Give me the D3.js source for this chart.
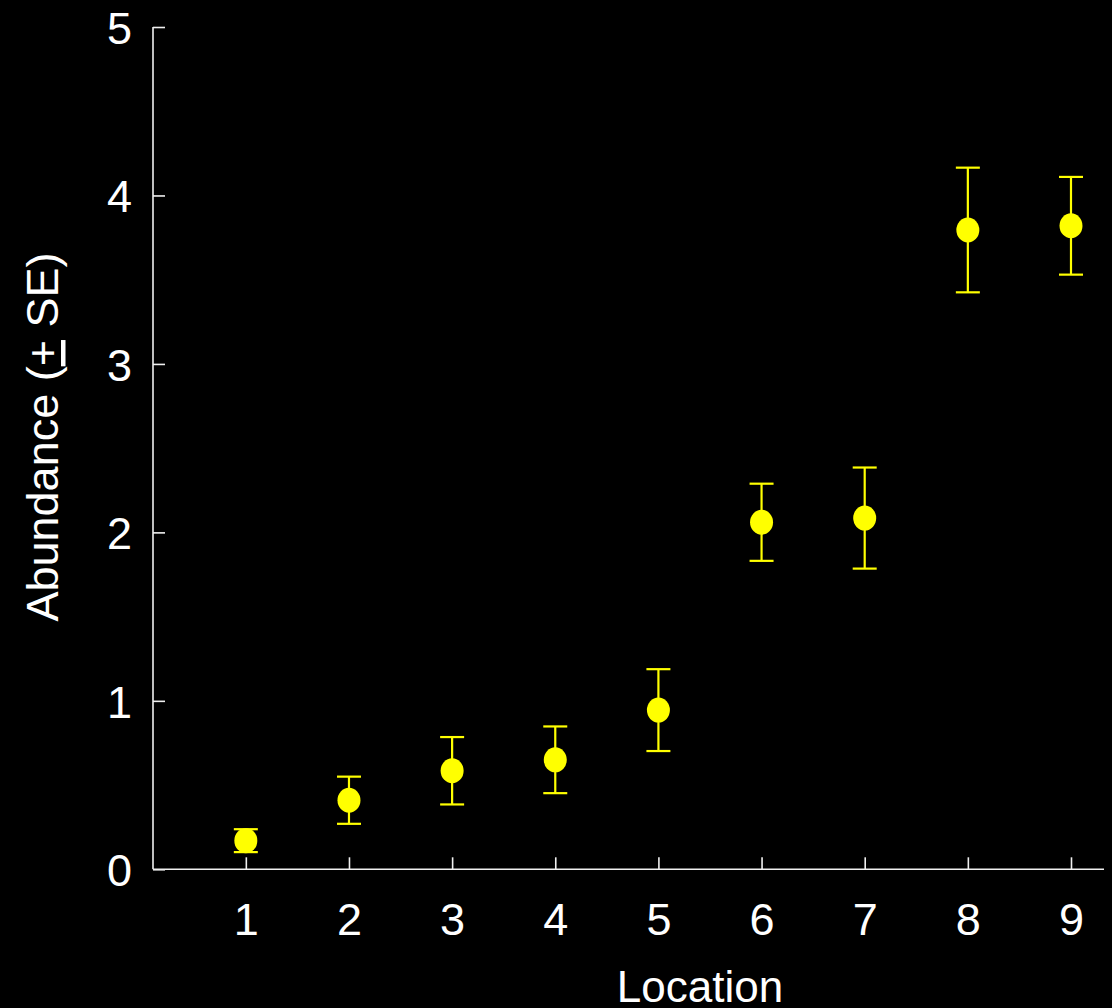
<!DOCTYPE html>
<html>
<head>
<meta charset="utf-8">
<script src="https://cdn.jsdelivr.net/npm/d3@7"></script>
<style>
  html, body { margin: 0; padding: 0; background: #000; }
  svg { display: block; }
  text { font-family: "Liberation Sans", Arial, sans-serif; fill: #fff; }
</style>
</head>
<body>
<svg id="chart" width="1112" height="1008"></svg>
<script>
// values
const locations = [1, 2, 3, 4, 5, 6, 7, 8, 9]
const abundance = [0.17, 0.41, 0.585, 0.65, 0.945, 2.06, 2.085, 3.795, 3.82]
const stdErr = [0.068, 0.14, 0.2, 0.198, 0.243, 0.229, 0.3, 0.37, 0.29]
const yTicks = [0, 1, 2, 3, 4, 5]

const data = locations.map((loc, i) => ({ loc, mean: abundance[i], se: stdErr[i] }))

const svg = d3.select("#chart")
const plotLeft = 153, plotRight = 1104, plotTop = 27, plotBottom = 869.3

const x = d3.scaleLinear().domain([0.1, 9.32]).range([plotLeft, plotRight])
const y = d3.scaleLinear().domain([0, 5]).range([plotBottom, plotTop])

const axisColor = "#f0f0f0"

// y axis
const yAxis = svg.append("g")
    .attr("transform", "translate(" + plotLeft + ",0)")
    .call(d3.axisRight(y).tickValues(yTicks).tickSize(12).tickFormat(d3.format("d")))
yAxis.select(".domain").attr("stroke", axisColor).attr("stroke-width", 1.6)
    .attr("d", "M0," + plotTop + "V" + plotBottom)
yAxis.selectAll(".tick line").attr("stroke", axisColor).attr("stroke-width", 1.6)
yAxis.selectAll(".tick text")
    .attr("x", -21).attr("dy", "0.36em")
    .attr("text-anchor", "end")
    .style("font-size", "45px").attr("fill", "#fff")

// x axis
const xAxis = svg.append("g")
    .attr("transform", "translate(0," + plotBottom + ")")
    .call(d3.axisTop(x).tickValues(locations).tickSize(12).tickFormat(d3.format("d")))
xAxis.select(".domain").attr("stroke", axisColor).attr("stroke-width", 1.6)
    .attr("d", "M" + plotLeft + ",0H" + plotRight)
xAxis.selectAll(".tick line").attr("stroke", axisColor).attr("stroke-width", 1.6)
xAxis.selectAll(".tick text")
    .attr("y", 66).attr("dy", 0)
    .style("font-size", "45px").attr("fill", "#fff")

// error bars
const bars = svg.append("g").attr("class", "points")
    .selectAll("g")
    .data(data)
    .join("g")
    .attr("stroke", "#ffff00")
    .attr("stroke-width", 2.2)

bars.append("line")
    .attr("x1", d => x(d.loc)).attr("x2", d => x(d.loc))
    .attr("y1", d => y(d.mean - d.se)).attr("y2", d => y(d.mean + d.se))
bars.append("line")
    .attr("x1", d => x(d.loc) - 12).attr("x2", d => x(d.loc) + 12)
    .attr("y1", d => y(d.mean + d.se)).attr("y2", d => y(d.mean + d.se))
bars.append("line")
    .attr("x1", d => x(d.loc) - 12).attr("x2", d => x(d.loc) + 12)
    .attr("y1", d => y(d.mean - d.se)).attr("y2", d => y(d.mean - d.se))
bars.append("ellipse")
    .attr("cx", d => x(d.loc)).attr("cy", d => y(d.mean))
    .attr("rx", 11.5).attr("ry", 12.5)
    .attr("fill", "#ffff00").attr("stroke", "none")

// axis titles
svg.append("text")
    .attr("x", 700).attr("y", 1002)
    .attr("text-anchor", "middle")
    .style("font-size", "44px")
    .text("Location")

const yTitle = svg.append("text")
    .attr("transform", "translate(58,437) rotate(-90)")
    .attr("text-anchor", "middle")
    .style("font-size", "45px")
yTitle.append("tspan").text("Abundance (")
yTitle.append("tspan").style("text-decoration", "underline").text("+")
yTitle.append("tspan").text(" SE)")
</script>
</body>
</html>
